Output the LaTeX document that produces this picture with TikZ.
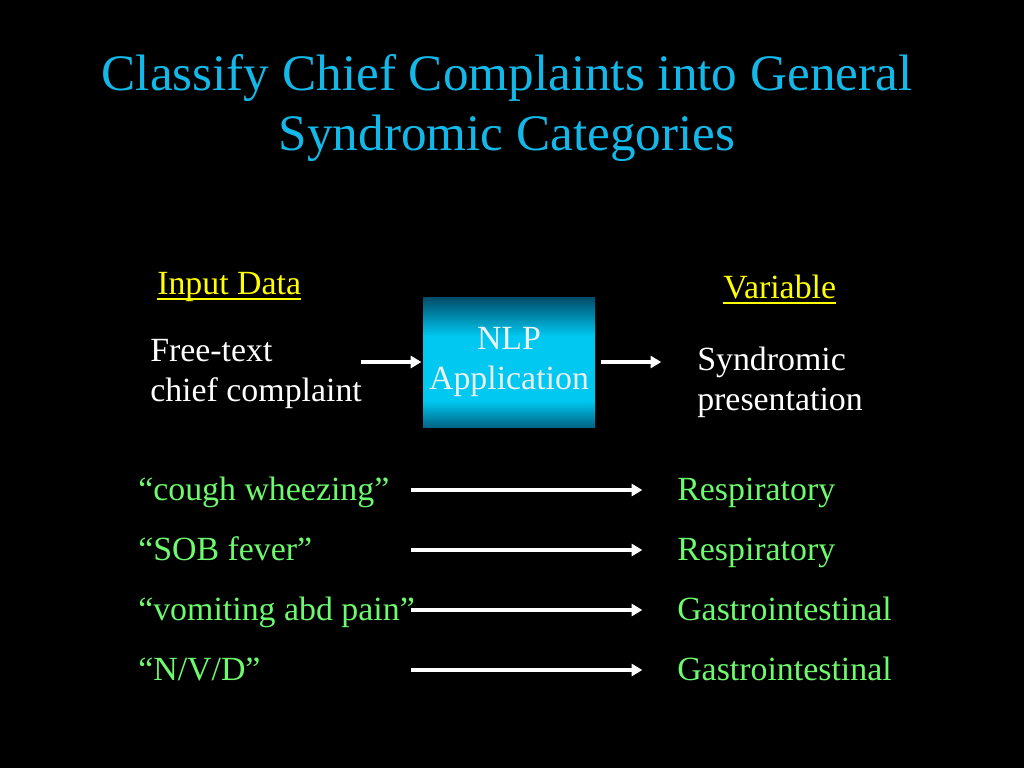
\documentclass[tikz,border=0pt]{standalone}
\usepackage{fontspec}
\setmainfont{Liberation Serif}
\usetikzlibrary{shapes,arrows.meta,positioning,calc}
\definecolor{titlecyan}{RGB}{20,184,232}
\definecolor{labelyellow}{RGB}{255,255,0}
\definecolor{samplegreen}{RGB}{110,250,110}
\definecolor{boxtop}{RGB}{0,75,105}
\definecolor{boxmid}{RGB}{0,200,240}
\definecolor{boxbottom}{RGB}{0,100,135}
\definecolor{boxtext}{RGB}{235,240,240}
\pgfdeclareverticalshading{nlpshade}{100bp}{color(0bp)=(boxbottom); color(25bp)=(boxbottom); color(35bp)=(boxmid); color(60bp)=(boxmid); color(75bp)=(boxtop); color(100bp)=(boxtop)}

\begin{document}
\begin{tikzpicture}[x=0.75pt, y=-0.75pt,
    plaintext/.style={inner sep=0pt, anchor=base west, text=white, align=left, font=\fontsize{25.4}{29.5}\selectfont},
    headtext/.style={plaintext, text=labelyellow},
    sampletext/.style={plaintext, text=samplegreen},
    titletext/.style={inner sep=0pt, anchor=base, text=titlecyan, align=center, font=\fontsize{38.4}{45}\selectfont},
    nlpbox/.style={rectangle, shading=nlpshade, minimum width=129pt, minimum height=97.5pt, text=boxtext, align=center, font=\fontsize{25.4}{30}\selectfont},
    flow/.style={white, line width=2.6pt, -{Triangle[length=8pt, width=9pt]}},
    ulline/.style={labelyellow, line width=1.5pt}
]
    % background and page size
    \fill[black] (0,0) rectangle (1024,768);
    \useasboundingbox (0,0) rectangle (1024,768);

    % title
    \node[titletext] (title) at (507,150) {Classify Chief Complaints into General\\Syndromic Categories};

    % headings
    \node[headtext] (input) at (157,294) {Input Data};
    \node[headtext] (variable) at (723,298) {Variable};
    \draw[ulline] ([yshift=-3.8pt]input.base west) -- ([yshift=-3.8pt]input.base east);
    \draw[ulline] ([yshift=-3.8pt]variable.base west) -- ([yshift=-3.8pt]variable.base east);

    % main flow
    \node[plaintext] (freetext) at (150,401) {Free-text\\chief complaint};
    \node[nlpbox] (nlp) at (509,362) {NLP\\Application};
    \node[plaintext] (syndrome) at (697,410) {Syndromic\\presentation};
    \draw[flow] ([xshift=-46pt]nlp.west) -- ([xshift=-1pt]nlp.west);
    \draw[flow] ([xshift=4.5pt]nlp.east) -- ([xshift=49.5pt]nlp.east);

    % examples
    \node[sampletext] (cc1) at (138,500) {“cough wheezing”};
    \node[sampletext] (cc2) at (138,560) {“SOB fever”};
    \node[sampletext] (cc3) at (138,620) {“vomiting abd pain”};
    \node[sampletext] (cc4) at (138,680) {“N/V/D”};
    \node[sampletext] (cat1) at (677,500) {Respiratory};
    \node[sampletext] (cat2) at (677,560) {Respiratory};
    \node[sampletext] (cat3) at (677,620) {Gastrointestinal};
    \node[sampletext] (cat4) at (677,680) {Gastrointestinal};
    \coordinate (from1) at (411,490);
    \coordinate (from2) at (411,550);
    \coordinate (from3) at (411,610);
    \coordinate (from4) at (411,670);
    \draw[flow] (from1) -- ([xshift=-26pt]cat1.west |- from1);
    \draw[flow] (from2) -- ([xshift=-26pt]cat2.west |- from2);
    \draw[flow] (from3) -- ([xshift=-26pt]cat3.west |- from3);
    \draw[flow] (from4) -- ([xshift=-26pt]cat4.west |- from4);
\end{tikzpicture}
\end{document}
